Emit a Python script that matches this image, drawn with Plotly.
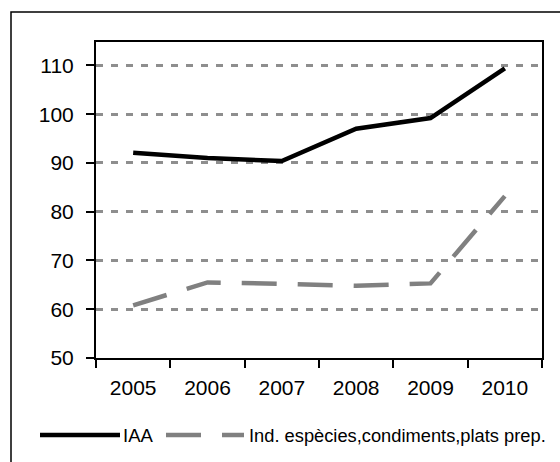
import plotly.graph_objects as go

years = ["2005", "2006", "2007", "2008", "2009", "2010"]
iaa = [92.1, 91.0, 90.4, 97.0, 99.2, 109.4]
especies = [60.8, 65.5, 65.2, 64.8, 65.3, 83.2]
series_names = ["IAA", "Ind. espècies,condiments,plats prep."]

W, H = 560, 462
L, R, T, B = 96, 542, 42, 358
pw, ph = R - L, B - T

def px(x):
    return (x - L) / pw

def py(y):
    return (B - y) / ph

font = dict(family="Liberation Sans, Arial, sans-serif", size=21, color="black")

fig = go.Figure()
fig.add_trace(go.Scatter(x=years, y=iaa, mode="lines", name=series_names[0],
                         line=dict(color="black", width=4.5), showlegend=False))
fig.add_trace(go.Scatter(x=years, y=especies, mode="lines", name=series_names[1],
                         line=dict(color="#808080", width=4.5, dash="35px,21px"), showlegend=False))

shapes = []
# outer border (chart area)
shapes.append(dict(type="rect", xref="paper", yref="paper",
                   x0=px(11), x1=px(575), y0=py(12), y1=py(480),
                   line=dict(color="black", width=1.5), layer="below"))
# legend samples
ly = py(435)
shapes.append(dict(type="line", xref="paper", yref="paper", x0=px(40), x1=px(120), y0=ly, y1=ly,
                   line=dict(color="black", width=4.5)))
shapes.append(dict(type="line", xref="paper", yref="paper", x0=px(166), x1=px(244), y0=ly, y1=ly,
                   line=dict(color="#808080", width=4.5, dash="35px,21px")))

annotations = [
    dict(xref="paper", yref="paper", x=px(121), y=ly, text=series_names[0], showarrow=False,
         xanchor="left", yanchor="middle", font=dict(font, size=18.5)),
    dict(xref="paper", yref="paper", x=px(247), y=ly, text=series_names[1], showarrow=False,
         xanchor="left", yanchor="middle", font=dict(font, size=18.3)),
]

fig.update_layout(
    width=W, height=H,
    margin=dict(l=L, r=W - R, t=T, b=H - B),
    paper_bgcolor="white", plot_bgcolor="white",
    font=font,
    shapes=shapes, annotations=annotations,
    xaxis=dict(type="category", range=[-0.5, 5.5], tickson="boundaries", ticks="outside",
               ticklen=8, tickwidth=2,
               tickcolor="black", showline=True, linecolor="black", linewidth=2, mirror=True,
               showgrid=False, tickfont=font, ticklabelstandoff=10),
    yaxis=dict(range=[50, 114.8], tickvals=[50, 60, 70, 80, 90, 100, 110], ticks="outside",
               ticklen=8, tickwidth=2, tickcolor="black", showline=True, linecolor="black",
               linewidth=2, mirror=True, showgrid=True, gridcolor="#8e8e8e", gridwidth=2.5,
               griddash="7px,8px", zeroline=False, tickfont=font, ticklabelstandoff=8),
)

fig.write_html("out.html", config={"displayModeBar": False})

with open("out.html", "r", encoding="utf-8") as f:
    html = f.read()
html = html.replace("<body>", '<body style="margin:0;padding:0;">', 1)
with open("out.html", "w", encoding="utf-8") as f:
    f.write(html)
